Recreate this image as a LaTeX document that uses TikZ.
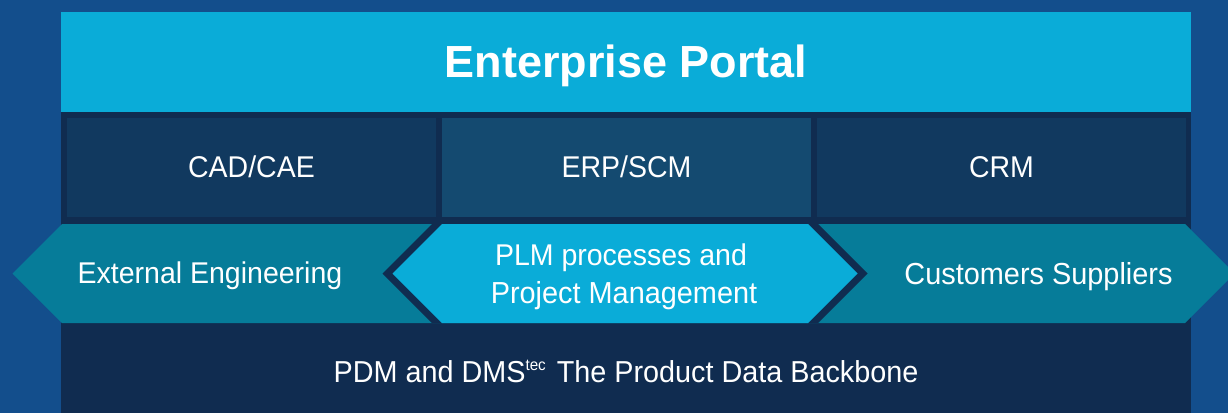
\documentclass[tikz,border=0pt]{standalone}
\usepackage{fontspec}
\setmainfont{Liberation Sans}[FakeStretch=0.95]
\newfontfamily\boldface{Liberation Sans Bold}
\definecolor{bgblue}{RGB}{19,78,140}
\definecolor{cyanband}{RGB}{10,172,216}
\definecolor{navy}{RGB}{16,44,80}
\definecolor{boxblue}{RGB}{17,57,95}
\definecolor{erpblue}{RGB}{20,74,112}
\definecolor{tealband}{RGB}{6,124,153}
\tikzset{
  txt/.style={text=white, inner sep=0pt, anchor=base, font=\fontsize{30}{38}\selectfont},
  title/.style={text=white, inner sep=0pt, anchor=base, font=\boldface\fontsize{45}{50}\selectfont},
}
\begin{document}
\begin{tikzpicture}[x=1pt,y=-1pt]
\useasboundingbox (0,0) rectangle (1228,413);
\clip (0,0) rectangle (1228,413);
\fill[bgblue] (0,0) rectangle (1228,413);
% main panel
\fill[navy] (61,12) rectangle (1191,413);
\fill[cyanband] (61,12) rectangle (1191,112);
% application boxes
\fill[boxblue] (67,118) rectangle (436,217);
\fill[erpblue] (442,118) rectangle (811,217);
\fill[boxblue] (817,118) rectangle (1186,217);
% teal arrow band
\fill[tealband] (62,224) -- (1185,224) -- (1234.5,273.5) -- (1185,323) -- (62,323) -- (12.5,273.5) -- cycle;
% central hexagon with navy border
\fill[navy] (432,224) -- (818,224) -- (867.5,273.5) -- (818,323) -- (432,323) -- (382.5,273.5) -- cycle;
\fill[cyanband] (442,224) -- (808,224) -- (857.5,273.5) -- (808,323) -- (442,323) -- (392.5,273.5) -- cycle;
% texts
\node[title] (portal) at (626,77) {Enterprise Portal};
\node[txt] (cad) at (251.5,177.5) {CAD/CAE};
\node[txt] (erp) at (626.5,177.5) {ERP/SCM};
\node[txt] (crm) at (1001.5,177.5) {CRM};
\node[txt] (ext) at (210,283) {External Engineering};
\node[txt, font=\fontsize{30.4}{38}\selectfont] (cust) at (1038.5,284) {Customers Suppliers};
\node[txt] (plm1) at (621,265) {PLM processes and};
\node[txt, font=\fontsize{30.4}{38}\selectfont] (plm2) at (624,303) {Project Management};
\node[txt, font=\fontsize{30.3}{38}\selectfont] (pdm) at (626,382) {PDM and DMS\raisebox{12pt}{\fontsize{16}{16}\selectfont tec}\hspace{11pt}The Product Data Backbone};
\end{tikzpicture}
\end{document}
